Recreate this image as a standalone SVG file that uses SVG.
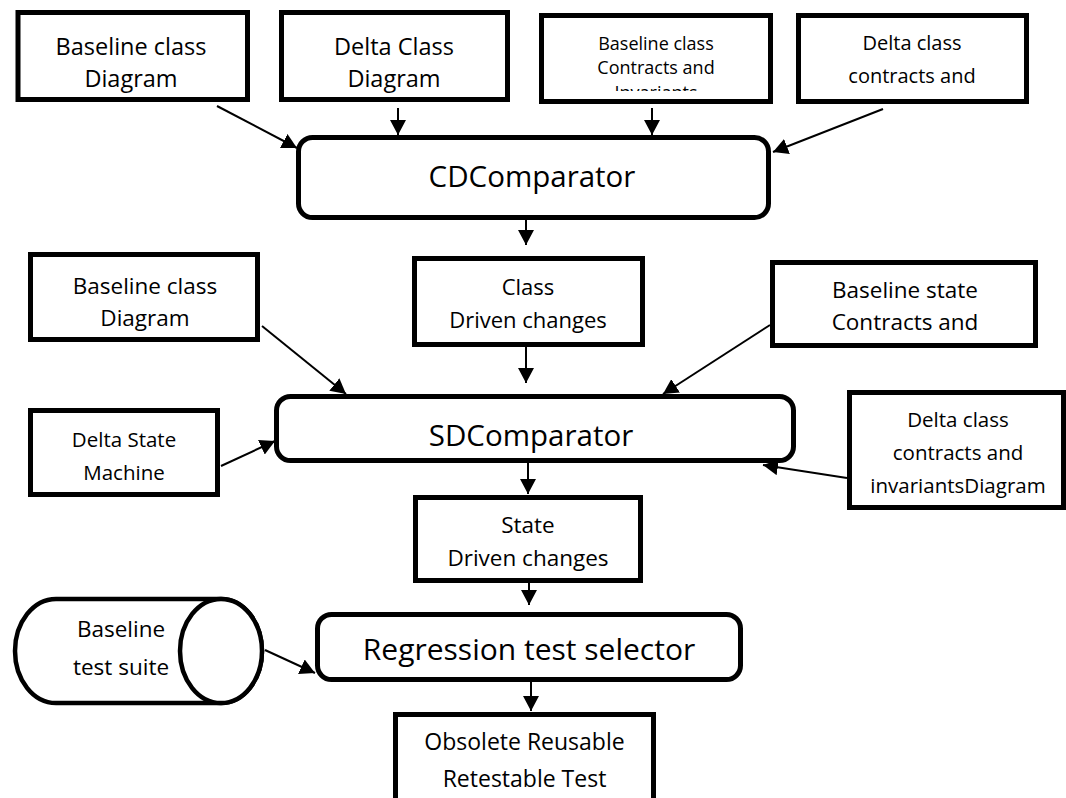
<svg xmlns="http://www.w3.org/2000/svg" width="1066" height="798" viewBox="0 0 1066 798">
<style>
  .box { fill: #fff; stroke: #000; stroke-width: 5; }
  .cyl { fill: #fff; stroke: #000; stroke-width: 4.5; }
  .t { font-family: "Open Sans", "Noto Sans", "Liberation Sans", sans-serif; fill: #000; text-anchor: middle; }
  .con line { stroke: #000; stroke-width: 2; marker-end: url(#ah); }
</style>
<defs>
  <marker id="ah" markerUnits="userSpaceOnUse" viewBox="0 0 15 16" refX="15" refY="8" markerWidth="15" markerHeight="16" orient="auto">
    <path d="M0,0 L15,8 L0,16 z" fill="#000"/>
  </marker>
  <clipPath id="clip3"><rect x="541" y="15" width="230" height="76"/></clipPath>
</defs>
<rect width="1066" height="798" fill="#fff"/>

<g id="baseline-class-diagram-top">
  <rect class="box" x="18" y="12.5" width="229.5" height="87"/>
  <text class="t" font-size="23.5" x="131" y="55">Baseline class</text>
  <text class="t" font-size="23.5" x="131" y="87">Diagram</text>
</g>
<g id="delta-class-diagram">
  <rect class="box" x="281.5" y="12.5" width="226" height="87"/>
  <text class="t" font-size="23.5" x="394" y="55">Delta Class</text>
  <text class="t" font-size="23.5" x="394" y="87">Diagram</text>
</g>
<g id="baseline-class-contracts">
  <rect class="box" x="541.5" y="15.5" width="229" height="86"/>
  <g clip-path="url(#clip3)">
    <text class="t" font-size="18" x="656" y="49.5">Baseline class</text>
    <text class="t" font-size="18" x="656" y="74">Contracts and</text>
    <text class="t" font-size="18" x="656" y="99">Invariants</text>
  </g>
</g>
<g id="delta-class-contracts-top">
  <rect class="box" x="798.5" y="15.5" width="228" height="86"/>
  <text class="t" font-size="20" x="912" y="50">Delta class</text>
  <text class="t" font-size="20" x="912" y="83">contracts and</text>
</g>

<g id="cdcomparator">
  <rect class="box" x="298.5" y="137.5" width="470" height="80" rx="14"/>
  <text class="t" font-size="29.5" x="532" y="187">CDComparator</text>
</g>
<g id="class-driven-changes">
  <rect class="box" x="414.5" y="258.5" width="228" height="86"/>
  <text class="t" font-size="22" x="528" y="295">Class</text>
  <text class="t" font-size="22" x="528" y="328">Driven changes</text>
</g>
<g id="baseline-class-diagram-mid">
  <rect class="box" x="30.5" y="254.5" width="227" height="85"/>
  <text class="t" font-size="22.5" x="145" y="294">Baseline class</text>
  <text class="t" font-size="22.5" x="145" y="326">Diagram</text>
</g>
<g id="baseline-state-contracts">
  <rect class="box" x="772.5" y="262.5" width="263" height="83"/>
  <text class="t" font-size="22.5" x="905" y="298">Baseline state</text>
  <text class="t" font-size="22.5" x="905" y="330">Contracts and</text>
</g>
<g id="delta-state-machine">
  <rect class="box" x="30.5" y="410.5" width="187" height="84"/>
  <text class="t" font-size="20.5" x="124" y="447">Delta State</text>
  <text class="t" font-size="20.5" x="124" y="480">Machine</text>
</g>
<g id="sdcomparator">
  <rect class="box" x="276.5" y="396.5" width="517" height="64" rx="14"/>
  <text class="t" font-size="29.5" x="531" y="446">SDComparator</text>
</g>
<g id="delta-class-contracts-right">
  <rect class="box" x="849.5" y="392.5" width="214" height="115"/>
  <text class="t" font-size="20.5" x="958" y="427">Delta class</text>
  <text class="t" font-size="20.5" x="958" y="460">contracts and</text>
  <text class="t" font-size="20.5" x="958" y="493">invariantsDiagram</text>
</g>
<g id="state-driven-changes">
  <rect class="box" x="415.5" y="497.5" width="225" height="83"/>
  <text class="t" font-size="22.5" x="528" y="533">State</text>
  <text class="t" font-size="22.5" x="528" y="566">Driven changes</text>
</g>
<g id="baseline-test-suite">
  <path class="cyl" d="M56,599 H221 A41,52 0 0 1 221,703 H56 A41,52 0 0 1 56,599 Z"/>
  <ellipse class="cyl" cx="221" cy="651" rx="41" ry="52"/>
  <text class="t" font-size="22.5" x="121" y="637">Baseline</text>
  <text class="t" font-size="22.5" x="121" y="675">test suite</text>
</g>
<g id="regression-test-selector">
  <rect class="box" x="317.5" y="614.5" width="423" height="65" rx="14"/>
  <text class="t" font-size="30" x="529" y="660">Regression test selector</text>
</g>
<g id="obsolete-reusable-retestable">
  <rect class="box" x="395.5" y="714.5" width="258" height="100"/>
  <text class="t" font-size="23" x="524.5" y="750">Obsolete Reusable</text>
  <text class="t" font-size="23" x="524.5" y="787">Retestable Test</text>
</g>

<g id="connectors" class="con">
  <line x1="217" y1="106" x2="297" y2="148"/>
  <line x1="398" y1="108" x2="398" y2="135"/>
  <line x1="652" y1="108" x2="652" y2="135"/>
  <line x1="883" y1="109" x2="773" y2="152"/>
  <line x1="526" y1="220" x2="526" y2="245"/>
  <line x1="526" y1="347" x2="526" y2="383"/>
  <line x1="262" y1="326" x2="346" y2="394"/>
  <line x1="221" y1="466" x2="275" y2="441"/>
  <line x1="770" y1="325" x2="663" y2="394"/>
  <line x1="847" y1="478" x2="763" y2="465"/>
  <line x1="528" y1="463" x2="528" y2="494"/>
  <line x1="529" y1="583" x2="529" y2="605"/>
  <line x1="265" y1="650" x2="315" y2="673"/>
  <line x1="531" y1="682" x2="531" y2="711"/>
</g>
</svg>
